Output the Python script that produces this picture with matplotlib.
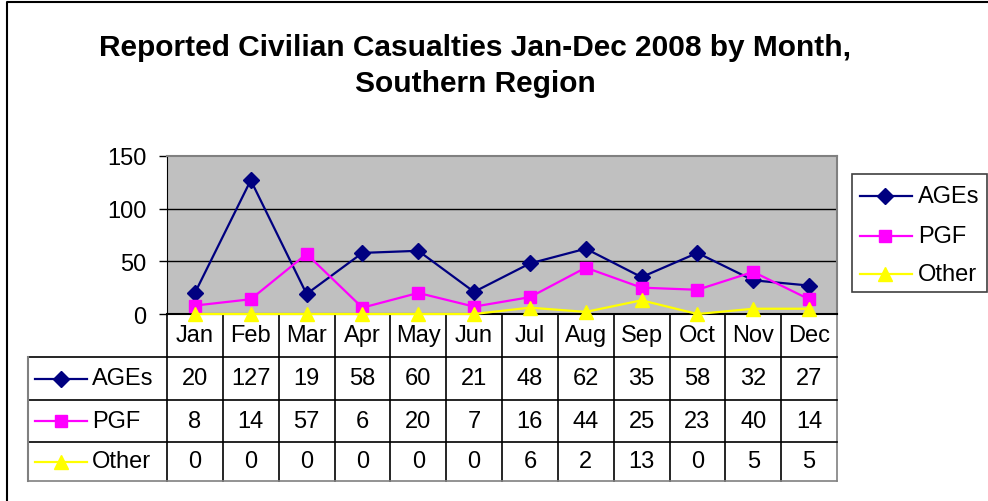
import matplotlib.pyplot as plt
import matplotlib.transforms as mtransforms

plt.rcParams['font.family'] = ['Liberation Sans', 'DejaVu Sans']

months = ["Jan", "Feb", "Mar", "Apr", "May", "Jun",
          "Jul", "Aug", "Sep", "Oct", "Nov", "Dec"]
ages = [20, 127, 19, 58, 60, 21, 48, 62, 35, 58, 32, 27]
pgf = [8, 14, 57, 6, 20, 7, 16, 44, 25, 23, 40, 14]
other = [0, 0, 0, 0, 0, 0, 6, 2, 13, 0, 5, 5]

series = [
    ("AGEs", ages, "#000080", "D", 8.5),
    ("PGF", pgf, "#FF00FF", "s", 8.5),
    ("Other", other, "#FFFF00", "^", 10),
]

W, H = 988, 502
fs = 17
fig = plt.figure(figsize=(W / 100, H / 100), dpi=100)

# overlay in pixel coords (y downwards) for border / table
ov = fig.add_axes([0, 0, 1, 1])
ov.set_xlim(0, W)
ov.set_ylim(H, 0)
ov.axis("off")

# plot area
px_l, px_r, px_t, px_b = 167, 837, 157, 315
ax = fig.add_axes([px_l / W, 1 - px_b / H, (px_r - px_l) / W, (px_b - px_t) / H])
ax.set_facecolor("#C0C0C0")
ax.set_xlim(-0.5, len(months) - 0.5)
ax.set_ylim(0, 150)
ax.set_yticks([0, 50, 100, 150])
ax.set_xticks([])
for y in [50, 100]:
    ax.axhline(y, color="black", lw=1)
ax.tick_params(axis="y", length=6, width=1, pad=9, labelsize=fs)
for s in ["top", "right"]:
    ax.spines[s].set_color("#808080")
    ax.spines[s].set_linewidth(1.5)
ax.spines["left"].set_color("black")
ax.spines["bottom"].set_color("black")
ax.spines["bottom"].set_linewidth(1.5)

x = range(len(months))
for name, vals, col, mk, ms in series:
    ax.plot(x, vals, color=col, marker=mk, markersize=ms, lw=1.6,
            clip_on=False, zorder=3)

# outer border
ov.plot([7, 7, W], [H, 3, 3], color="black", lw=1.5)

fig.text(475 / W, 1 - 66 / H,
         "Reported Civilian Casualties Jan-Dec 2008 by Month,\nSouthern Region",
         ha="center", va="center", fontsize=21.5, fontweight="bold",
         linespacing=1.35)

# data table under the axis: x from ax data, y in pixels
tr = mtransforms.blended_transform_factory(ax.transData, ov.transData)
rows_y = [315, 358, 401, 443, 482]
tab_left = 28
x0, x1 = -0.5, len(months) - 0.5

for i in range(len(months) + 1):
    xi = i - 0.5
    c = "#808080" if i == len(months) else "black"
    ov.plot([xi, xi], [rows_y[0], rows_y[-1]], color=c, lw=1.2,
            transform=tr, clip_on=False)
xl = ax.transData.inverted().transform(ov.transData.transform((tab_left, 0)))[0]
for j, yy in enumerate(rows_y[1:]):
    c = "#808080" if j == len(rows_y) - 2 else "black"
    ov.plot([xl, x1], [yy, yy], color=c, lw=1.2, transform=tr, clip_on=False)
ov.plot([xl, xl], [rows_y[1], rows_y[-1]], color="#808080", lw=1.5,
        transform=tr, clip_on=False)

for i, m in enumerate(months):
    ov.text(i, (rows_y[0] + rows_y[1]) / 2, m, transform=tr,
            ha="center", va="center", fontsize=fs)

for r, (name, vals, col, mk, ms) in enumerate(series):
    yc = (rows_y[r + 1] + rows_y[r + 2]) / 2
    for i, v in enumerate(vals):
        ov.text(i, yc, str(v), transform=tr, ha="center", va="center",
                fontsize=fs)
    ov.plot([35, 87], [yc, yc], color=col, lw=1.6)
    ov.plot([61], [yc], color=col, marker=mk, markersize=ms)
    ov.text(92, yc, name, ha="left", va="center", fontsize=fs)

# legend box on the right
ov.add_patch(plt.Rectangle((852, 175), 135, 118, fill=False,
                           edgecolor="#404040", lw=1.2))
for r, (name, vals, col, mk, ms) in enumerate(series):
    yc = [197, 237, 275][r]
    ov.plot([860, 912], [yc, yc], color=col, lw=1.6)
    ov.plot([885], [yc], color=col, marker=mk, markersize=ms)
    ov.text(918, yc, name, ha="left", va="center", fontsize=fs)

plt.savefig("out.png", dpi=100)
